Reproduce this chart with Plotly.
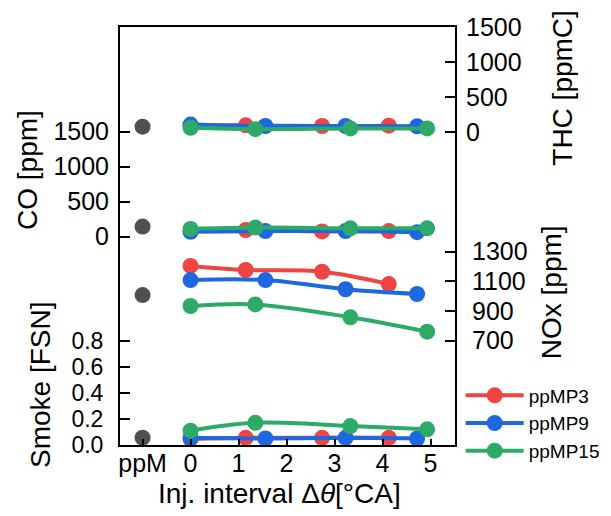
import plotly.graph_objects as go

# ---------------- data ----------------
x_ppm = [-1]
interval_mp3 = [0, 1.15, 2.74, 4.13]
interval_mp9 = [0, 1.56, 3.23, 4.72]
interval_mp15 = [0, 1.35, 3.33, 4.93]

thc_ppm = [75]
thc_mp3 = [90, 95, 85, 90]
thc_mp9 = [105, 85, 85, 80]
thc_mp15 = [60, 40, 50, 50]

co_ppm = [145]
co_mp3 = [80, 95, 75, 80]
co_mp9 = [70, 80, 80, 65]
co_mp15 = [110, 130, 120, 120]

nox_ppm = [1008]
nox_mp3 = [1204, 1177, 1165, 1082]
nox_mp9 = [1109, 1109, 1047, 1015]
nox_mp15 = [934, 945, 858, 761]

smoke_ppm = [0.056]
smoke_mp3 = [0.045, 0.055, 0.055, 0.055]
smoke_mp9 = [0.055, 0.05, 0.055, 0.05]
smoke_mp15 = [0.11, 0.17, 0.145, 0.12]

x_tickvals = [-1, 0, 1, 2, 3, 4, 5]
x_ticktext = ["ppM", "0", "1", "2", "3", "4", "5"]

series_names = ["ppMP3", "ppMP9", "ppMP15"]
# --------------------------------------

RED = "#EF4444"
BLUE = "#1D67DF"
GREEN = "#2EAA68"
GREY = "#505050"
colors = [RED, BLUE, GREEN]
xs = [interval_mp3, interval_mp9, interval_mp15]

groups = [
    ("y", smoke_ppm, [smoke_mp3, smoke_mp9, smoke_mp15], True),
    ("y2", nox_ppm, [nox_mp3, nox_mp9, nox_mp15], False),
    ("y3", co_ppm, [co_mp3, co_mp9, co_mp15], False),
    ("y4", thc_ppm, [thc_mp3, thc_mp9, thc_mp15], False),
]

fig = go.Figure()
for yref, ppm_val, vals, show in groups:
    fig.add_trace(go.Scatter(
        x=x_ppm, y=ppm_val, yaxis=yref, mode="markers",
        marker=dict(color=GREY, size=16), showlegend=False, hoverinfo="skip"))
    for name, xv, yv, c in zip(series_names, xs, vals, colors):
        fig.add_trace(go.Scatter(
            x=xv, y=yv, yaxis=yref, mode="lines+markers", name=name,
            line=dict(color=c, width=4, shape="spline", smoothing=1.0),
            marker=dict(color=c, size=16),
            showlegend=show))

FONT = "Liberation Sans, Arial, sans-serif"
tick_font = dict(family=FONT, size=25, color="black")
smoke_tick_font = dict(family=FONT, size=23, color="black")

common_y = dict(showgrid=False, zeroline=False, ticks="inside", ticklen=10,
                tickwidth=2, tickcolor="black",
                ticklabelstandoff=10, anchor="x", automargin=False)

fig.update_layout(
    width=611, height=516,
    margin=dict(l=120, r=156, t=27, b=71, autoexpand=False),
    paper_bgcolor="white", plot_bgcolor="white",
    font=dict(family=FONT, color="black"),
    xaxis=dict(range=[-1.47, 5.51], tickvals=x_tickvals, ticktext=x_ticktext,
               showgrid=False, zeroline=False, showline=True, linecolor="black",
               linewidth=2, mirror=True, ticks="inside", ticklen=6, tickwidth=2,
               tickcolor="black", tickfont=tick_font, ticklabelstandoff=-5,
               automargin=False),
    yaxis=dict(range=[0, 3.205], tickvals=[0, 0.2, 0.4, 0.6, 0.8], tickformat=".1f",
               side="left", showline=True, linecolor="black", linewidth=2,
               tickfont=smoke_tick_font, **common_y),
    yaxis2=dict(range=[-3, 2815], tickvals=[700, 900, 1100, 1300], side="right",
                overlaying="y", showline=True, linecolor="black", linewidth=2,
                tickfont=tick_font, **common_y),
    yaxis3=dict(range=[-2976, 2996], tickvals=[0, 500, 1000, 1500], side="left",
                overlaying="y", showline=False, tickfont=tick_font, **common_y),
    yaxis4=dict(range=[-4480, 1502], tickvals=[0, 500, 1000, 1500], side="right",
                overlaying="y", showline=False, tickfont=tick_font, **common_y),
    legend=dict(x=1.017, y=0.164, xanchor="left", yanchor="top",
                font=dict(family=FONT, size=19, color="black"),
                itemwidth=58, tracegroupgap=0, bgcolor="rgba(0,0,0,0)"),
    showlegend=True,
)

title_font = dict(family=FONT, size=28, color="black")
annots = [
    ("CO [ppm]", -0.2746, 0.658, -90),
    ("Smoke [FSN]", -0.2388, 0.1435, -90),
    ("THC [ppmC]", 1.3185, 0.854, -90),
    ("NOx [ppm]", 1.2887, 0.3648, -90),
    ("Inj. interval Δ<i>θ</i>[°CA]", 0.4776, -0.1172, 0),
]
for text, ax, ay, rot in annots:
    fig.add_annotation(text=text, x=ax, y=ay, xref="paper", yref="paper",
                       xanchor="center", yanchor="middle", showarrow=False,
                       textangle=rot, font=title_font)

fig.write_html("out.html")
